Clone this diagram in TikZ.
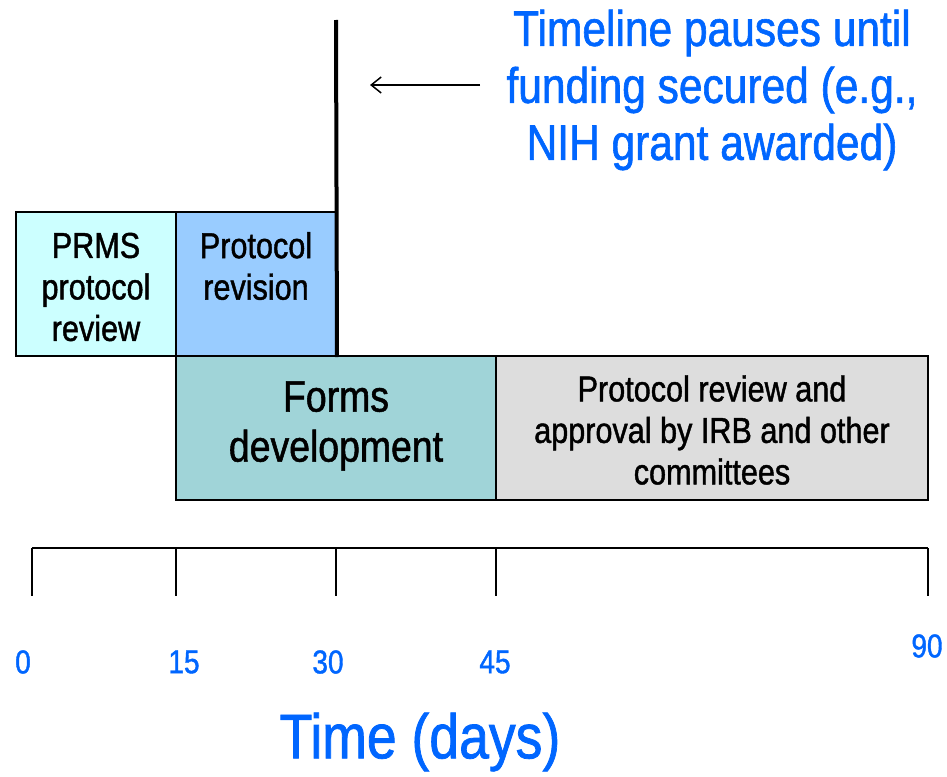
\documentclass[tikz,border=0pt]{standalone}
\usepackage{fontspec}
\setmainfont{Liberation Sans}[FakeStretch=0.85, FakeBold=1.2, AutoFakeBold=1.2]
\usetikzlibrary{arrows.meta}
\definecolor{noteblue}{RGB}{0,102,255}
\definecolor{cyanbox}{RGB}{204,255,255}
\definecolor{bluebox}{RGB}{153,204,255}
\definecolor{tealbox}{RGB}{160,212,216}
\definecolor{greybox}{RGB}{221,221,221}
\tikzset{
  phase/.style={draw=black, line width=2, rectangle, inner sep=0, minimum height=144},
  boxtext/.style={align=center, inner sep=0, text=black, font=\fontsize{36}{41.5}\selectfont},
  ticklab/.style={text=noteblue, font=\fontsize{33}{36}\selectfont, inner sep=0},
  axisline/.style={line width=2, draw=black},
}
\begin{document}
\begin{tikzpicture}[x=1pt, y=-1pt]
\useasboundingbox (0,0) rectangle (947,776);
% phases
\node[phase, fill=cyanbox, minimum width=160,
  label={[boxtext, yshift=-3]center:PRMS\\protocol\\review}] (prms) at (96,284) {};
\node[phase, fill=bluebox, minimum width=160,
  label={[boxtext, yshift=18]center:Protocol\\revision}] (prot) at (256,284) {};
\node[phase, fill=tealbox, minimum width=320,
  label={[boxtext, font=\fontsize{44}{50}\selectfont, yshift=2]center:Forms\\development}] (forms) at (336,428) {};
\node[phase, fill=greybox, minimum width=432,
  label={[boxtext, yshift=-2]center:Protocol review and\\approval by IRB and other\\committees}] (irb) at (712,428) {};
% pause line
\coordinate (pausetop) at (336,20);
\draw[line width=4] (pausetop) -- (prot.south east);
% note
\node[text=noteblue, align=center, font=\fontsize{50}{57}\selectfont, inner sep=0] (note) at (712,90) {Timeline pauses until\\funding secured (e.g.,\\NIH grant awarded)};
\coordinate (arrfrom) at (480,85);
\coordinate (arrto) at (370,85);
\draw[line width=1.5, -{Straight Barb[length=10, width=16]}] (arrfrom) -- (arrto);
% axis
\coordinate (t0) at (32,548);
\coordinate (t15) at (176,548);
\coordinate (t30) at (336,548);
\coordinate (t45) at (496,548);
\coordinate (t90) at (928,548);
\draw[axisline] (t0) -- (t90);
\foreach \t in {t0,t15,t30,t45,t90} \draw[axisline] (\t) -- ++(0,48);
\node[ticklab] (l0) at (23,662) {0};
\node[ticklab] (l15) at (184,662) {15};
\node[ticklab] (l30) at (328,662) {30};
\node[ticklab] (l45) at (495,662) {45};
\node[ticklab] (l90) at (927,646) {90};
\node[text=noteblue, font=\fontsize{63}{66}\selectfont, inner sep=0] (title) at (420,742) {Time (days)};
\end{tikzpicture}
\end{document}
